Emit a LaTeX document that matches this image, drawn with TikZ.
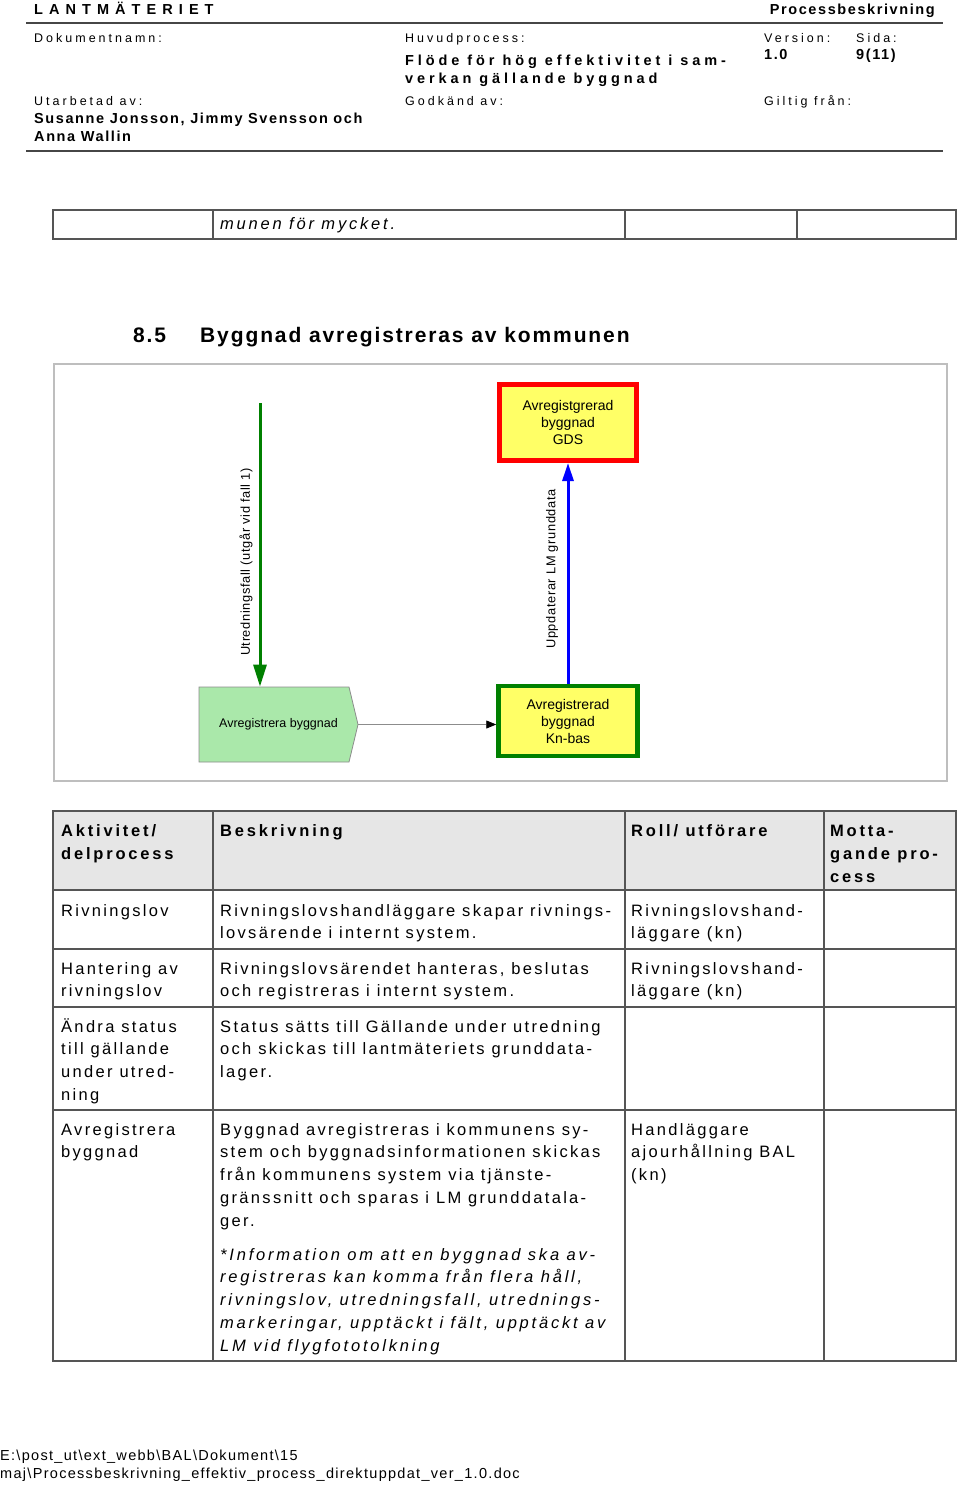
\documentclass[tikz,border=0pt]{standalone}
\usepackage{fontspec}
\setmainfont{Liberation Sans}
\usetikzlibrary{arrows.meta,shapes.symbols}
\newcommand\fsz[3]{\fontsize{#1}{#2}\selectfont\addfontfeatures{LetterSpace=#3}}
\newcommand\txtlines[6]{\foreach \lnx [count=\ii] in {#6}{\node[#2] (#1\ii) at (#3,{#4+(\ii-1)*#5}) {\lnx};}}
\definecolor{rulegray}{RGB}{70,70,70}
\definecolor{gridgray}{RGB}{85,85,85}
\definecolor{hdrfill}{RGB}{230,230,230}
\definecolor{framegray}{RGB}{190,190,190}
\definecolor{boxyellow}{RGB}{255,255,102}
\definecolor{darkgreen}{RGB}{0,128,0}
\definecolor{lightgrn}{RGB}{170,232,170}
\definecolor{siggray}{RGB}{140,140,140}
\begin{document}
\begin{tikzpicture}[x=1pt,y=-1pt,
  hsm/.style={font=\fsz{12.5}{15}{24}, anchor=base west, inner sep=0},
  hbd/.style={font=\bfseries\fsz{14.5}{18}{11}, anchor=base west, inner sep=0},
  hbdl/.style={font=\bfseries\fsz{14.5}{18}{14}, anchor=base west, inner sep=0},
  hbdw/.style={font=\bfseries\fsz{14.5}{18}{27}, anchor=base west, inner sep=0},
  tb/.style={font=\fsz{16.5}{22.8}{14}, anchor=base west, inner sep=0},
  tbb/.style={font=\bfseries\fsz{16.5}{22.8}{17}, anchor=base west, inner sep=0},
  tbi/.style={font=\itshape\fsz{16.5}{22.8}{17}, anchor=base west, inner sep=0},
  ftr/.style={font=\fsz{14.5}{18}{9}, anchor=base west, inner sep=0},
  ttl/.style={font=\bfseries\fsz{21}{25}{9}, anchor=base west, inner sep=0},
  dtext/.style={font=\fontsize{12.5}{17}\selectfont, align=center},
  btext/.style={font=\fontsize{14}{17}\selectfont, align=center},
  lbl/.style={font=\fontsize{12.8}{15}\selectfont\addfontfeatures{LetterSpace=5}, inner sep=0, rotate=90},
  rule/.style={draw=rulegray, line width=1.5},
  grid/.style={draw=gridgray, line width=1.4},
  redbox/.style={btext, draw=red, line width=5, fill=boxyellow, minimum width=137, minimum height=76, inner sep=0},
  grnbox/.style={btext, draw=darkgreen, line width=4.5, fill=boxyellow, minimum width=139, minimum height=70, inner sep=0},
  sigbox/.style={dtext, signal, signal to=east, signal from=nowhere, signal pointer angle=153, draw=siggray, line width=0.8, fill=lightgrn, minimum width=159, minimum height=75, inner sep=0},
  grnarrow/.style={draw=darkgreen, line width=3, -{Triangle[length=22pt,width=13pt]}},
  bluarrow/.style={draw=blue, line width=3, -{Triangle[length=18pt,width=11pt]}},
  grayarrow/.style={draw=siggray, line width=0.8, -{Triangle[length=10pt,width=8pt,fill=black,color=black]}}
]
\useasboundingbox[fill=white] (0,0) rectangle (960,1485);

% ---------- header ----------
\node[hbdl] (lant) at (34,15) {L A N T M Ä T E R I E T};
\node[hbd, anchor=base east] (proc) at (935,15) {Processbeskrivning};
\draw[rule] (26,23) -- (943,23);
\node[hsm] (dok) at (34,42.5) {Dokumentnamn:};
\node[hsm] (huv) at (405,42.5) {Huvudprocess:};
\node[hsm] (ver) at (764,42.5) {Version:};
\node[hsm] (sid) at (856,42.5) {Sida:};
\txtlines{flo}{hbdw}{405}{66}{18}{Flöde för hög effektivitet i sam-, verkan gällande byggnad}
\node[hbd] (vnr) at (764,60) {1.0};
\node[hbd] (snr) at (856,60) {9(11)};
\node[hsm] (uta) at (34,105.5) {Utarbetad av:};
\node[hsm] (god) at (405,105.5) {Godkänd av:};
\node[hsm] (gil) at (764,105.5) {Giltig från:};
\txtlines{auth}{hbd}{34}{124}{18}{{Susanne Jonsson, Jimmy Svensson och}, Anna Wallin}
\draw[rule] (26,151) -- (943,151);

% ---------- fragment of previous table ----------
\draw[grid] (53,210) rectangle (956,239);
\draw[grid] (213,210) -- (213,239) (625,210) -- (625,239) (797,210) -- (797,239);
\node[tbi] (frag) at (220,229) {munen för mycket.};

% ---------- heading ----------
\node[ttl] (hnum) at (133,342.5) {8.5};
\node[ttl] (htxt) at (200,342.5) {Byggnad avregistreras av kommunen};

% ---------- diagram ----------
\draw[draw=framegray, line width=1.5] (54,364) rectangle (947,781);
\node[redbox] (gds) at (568,422.5) {Avregistgrerad\\byggnad\\GDS};
\node[grnbox] (kn) at (568,721) {Avregistrerad\\byggnad\\Kn-bas};
\node[sigbox] (avr) at (274,724.5) {\hspace*{9pt}Avregistrera byggnad};
\coordinate (ut) at (260,403);
\draw[grnarrow] (ut) -- (ut |- avr.north);
\draw[bluarrow] (kn.north) -- (kn.north |- gds.south);
\draw[grayarrow] (avr.east) -- (avr.east -| kn.west);
\node[lbl] (l1) at (246,562) {Utredningsfall (utgår vid fall 1)};
\node[lbl] (l2) at (552,569) {Uppdaterar LM grunddata};

% ---------- table ----------
\fill[hdrfill] (53,811) rectangle (956,890);
\draw[grid] (53,811) rectangle (956,1361);
\draw[grid] (213,811) -- (213,1361) (625,811) -- (625,1361) (824,811) -- (824,1361);
\draw[grid] (53,890) -- (956,890) (53,949) -- (956,949) (53,1007) -- (956,1007) (53,1110) -- (956,1110);

\txtlines{h1}{tbb}{61}{836}{23}{Aktivitet/, delprocess}
\node[tbb] (h2) at (220,836) {Beskrivning};
\node[tbb] (h3) at (631,836) {Roll/ utförare};
\txtlines{h4}{tbb}{830}{836}{23}{Motta-, gande pro-, cess}

\node[tb] (a1) at (61,916) {Rivningslov};
\txtlines{b1}{tb}{220}{916}{22.8}{Rivningslovshandläggare skapar rivnings-, lovsärende i internt system.}
\txtlines{c1}{tb}{631}{916}{22.8}{Rivningslovshand-, läggare (kn)}

\txtlines{a2}{tb}{61}{974}{22.8}{Hantering av, rivningslov}
\txtlines{b2}{tb}{220}{974}{22.8}{{Rivningslovsärendet hanteras, beslutas}, och registreras i internt system.}
\txtlines{c2}{tb}{631}{974}{22.8}{Rivningslovshand-, läggare (kn)}

\txtlines{a3}{tb}{61}{1032}{22.8}{Ändra status, till gällande, under utred-, ning}
\txtlines{b3}{tb}{220}{1032}{22.8}{Status sätts till Gällande under utredning, och skickas till lantmäteriets grunddata-, lager.}

\txtlines{a4}{tb}{61}{1135}{22.8}{Avregistrera, byggnad}
\txtlines{b4}{tb}{220}{1135}{22.8}{Byggnad avregistreras i kommunens sy-, stem och byggnadsinformationen skickas, från kommunens system via tjänste-, gränssnitt och sparas i LM grunddatala-, ger.}
\txtlines{i4}{tbi}{220}{1260}{22.8}{*Information om att en byggnad ska av-, {registreras kan komma från flera håll,}, {rivningslov, utredningsfall, utrednings-}, {markeringar, upptäckt i fält, upptäckt av}, LM vid flygfototolkning}
\txtlines{c4}{tb}{631}{1135}{22.8}{Handläggare, ajourhållning BAL, (kn)}

% ---------- footer ----------
\node[ftr] (f1) at (0,1460) {E:\textbackslash post\_ut\textbackslash ext\_webb\textbackslash BAL\textbackslash Dokument\textbackslash 15};
\node[ftr] (f2) at (0,1478) {maj\textbackslash Processbeskrivning\_effektiv\_process\_direktuppdat\_ver\_1.0.doc};
\end{tikzpicture}
\end{document}
